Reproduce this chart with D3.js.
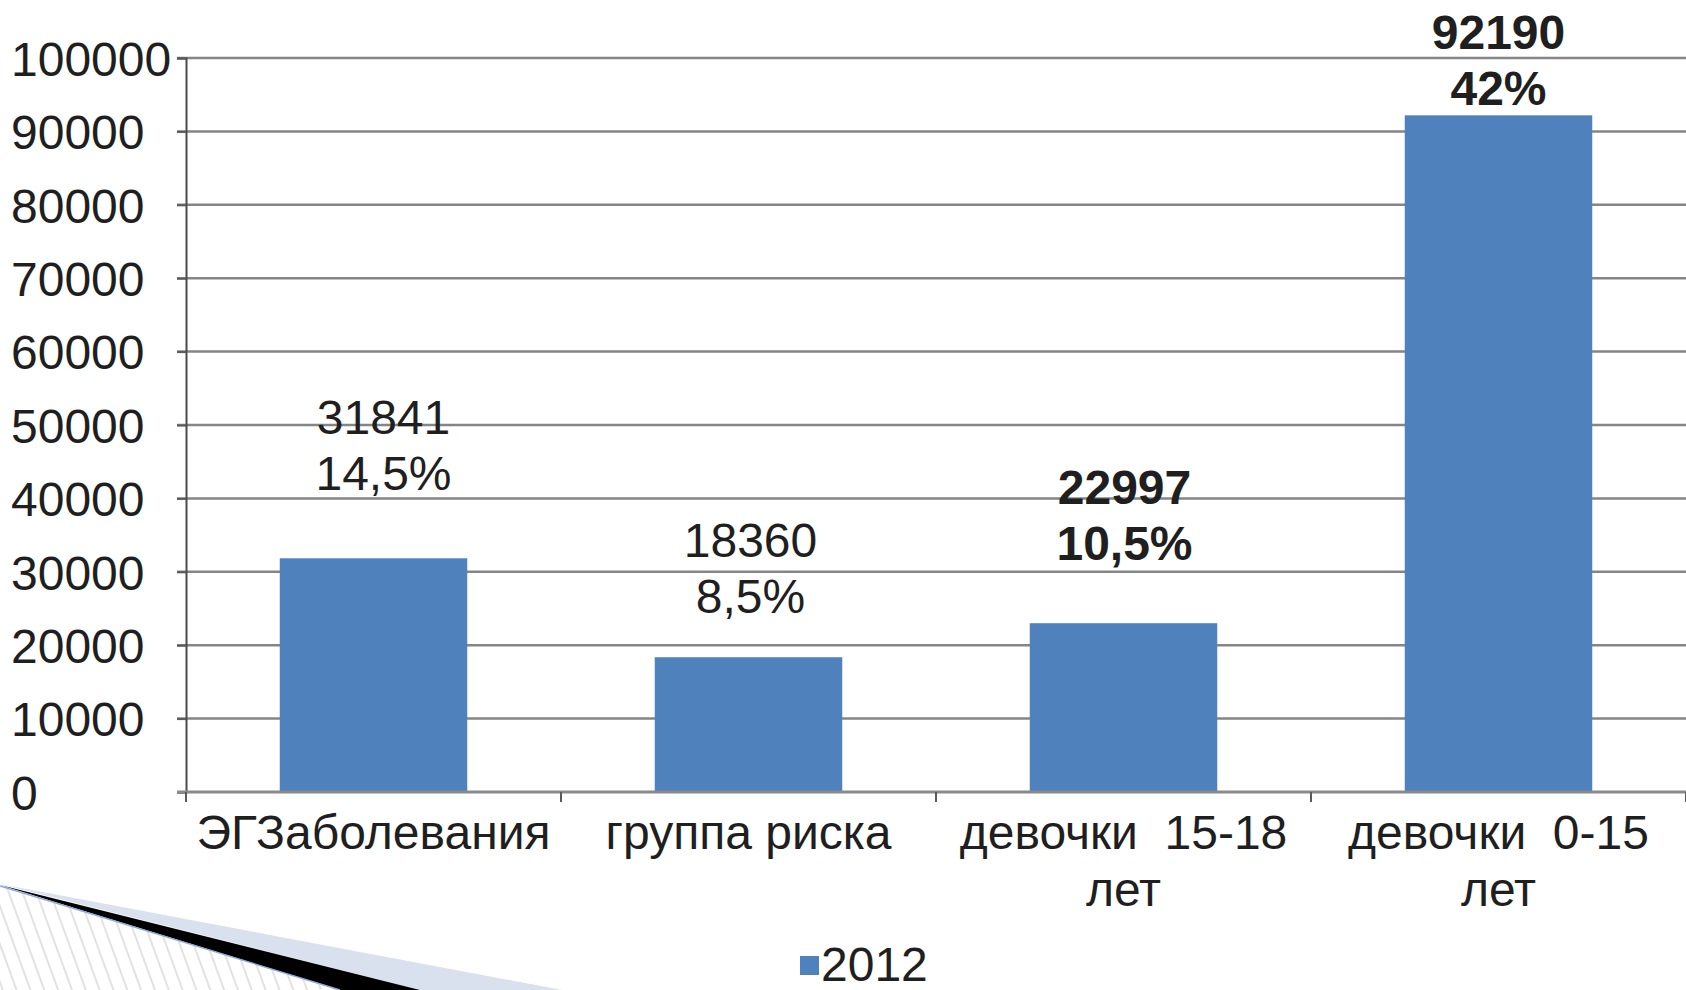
<!DOCTYPE html>
<html lang="ru">
<head>
    <meta charset="UTF-8">
    <title>2012</title>
    <script src="https://d3js.org/d3.v7.min.js"></script>
    <style>
        html, body { margin: 0; padding: 0; background: #fff; }
        svg text { font-family: "Liberation Sans", Arial, sans-serif; font-size: 48px; fill: #1f1f1f; white-space: pre; }
    </style>
</head>
<body>
    <div id="chart"></div>

    <script>
        // data
        const categories = ["ЭГЗаболевания", "группа риска", "девочки  15-18 лет", "девочки  0-15 лет"];
        const categoryLines = [["ЭГЗаболевания"], ["группа риска"], ["девочки  15-18", "лет"], ["девочки  0-15", "лет"]];
        const values = [31841, 18360, 22997, 92190];
        const shares = ["14,5%", "8,5%", "10,5%", "42%"];
        const boldLabel = [false, false, true, true];
        const yTicks = [0, 10000, 20000, 30000, 40000, 50000, 60000, 70000, 80000, 90000, 100000];
        const seriesName = "2012";

        // hand-placed label layout (px above bar top / horizontal nudge)
        const labelGap = [68, 44, 63, 10];
        const labelShift = [10, 2, 1, 0];

        const width = 1686, height = 990;
        const plot = {left: 186, right: 1686, top: 58, bottom: 792};
        const barColor = "#4f81bd";

        const svg = d3.select("#chart")
                      .append("svg")
                      .attr("width", width)
                      .attr("height", height);

        const x = d3.scaleBand().domain(categories).range([plot.left, plot.right])
                    .paddingInner(0.5).paddingOuter(0.25);
        const y = d3.scaleLinear().domain([0, 100000]).range([plot.bottom, plot.top]);

        // gridlines
        svg.append("g")
           .selectAll("line")
           .data(yTicks.slice(1))
           .enter()
           .append("line")
           .attr("x1", plot.left - 9)
           .attr("x2", plot.right)
           .attr("y1", d => y(d))
           .attr("y2", d => y(d))
           .attr("stroke", "#858585")
           .attr("stroke-width", 2.5);

        // y axis
        const yAxis = svg.append("g")
           .attr("transform", `translate(${plot.left}, 0)`)
           .call(d3.axisLeft(y).tickValues(yTicks).tickSize(9).tickPadding(0).tickFormat(d3.format("d")));
        yAxis.select(".domain").attr("stroke", "#4a4a4a").attr("stroke-width", 2);
        yAxis.selectAll(".tick line").attr("stroke", "#5a5a5a").attr("stroke-width", 2);
        yAxis.selectAll("text")
             .attr("x", 11 - plot.left)
             .attr("dy", "0.36em")
             .attr("text-anchor", "start")
             .style("font-size", "48px")
             .style("font-family", "Liberation Sans, Arial, sans-serif")
             .attr("fill", "#1f1f1f");

        // bars
        svg.selectAll(".bar")
           .data(values)
           .enter()
           .append("rect")
           .attr("class", "bar")
           .attr("x", (d, i) => x(categories[i]))
           .attr("y", d => y(d))
           .attr("width", x.bandwidth())
           .attr("height", d => y(0) - y(d))
           .attr("fill", barColor);

        // x axis line and category ticks
        svg.append("line")
           .attr("x1", plot.left - 9).attr("x2", plot.right)
           .attr("y1", y(0)).attr("y2", y(0))
           .attr("stroke", "#8a8a8a").attr("stroke-width", 3);
        svg.append("g")
           .selectAll("line")
           .data(d3.range(categories.length + 1))
           .enter()
           .append("line")
           .attr("x1", i => plot.left + i * x.step())
           .attr("x2", i => plot.left + i * x.step())
           .attr("y1", y(0))
           .attr("y2", y(0) + 10)
           .attr("stroke", "#5a5a5a")
           .attr("stroke-width", 2);

        // category labels
        const cat = svg.append("g")
           .selectAll("text")
           .data(categories)
           .enter()
           .append("text")
           .attr("text-anchor", "middle")
           .attr("x", d => x(d) + x.bandwidth() / 2)
           .attr("y", 849);
        cat.each(function (d, i) {
            categoryLines[i].forEach((line, k) => {
                d3.select(this).append("tspan")
                  .attr("x", x(d) + x.bandwidth() / 2)
                  .attr("dy", k === 0 ? 0 : 57)
                  .text(line);
            });
        });

        // data labels
        svg.append("g")
           .selectAll("text")
           .data(values)
           .enter()
           .append("text")
           .attr("text-anchor", "middle")
           .attr("font-weight", (d, i) => boldLabel[i] ? "bold" : "normal")
           .each(function (d, i) {
               const cx = x(categories[i]) + x.bandwidth() / 2 + labelShift[i];
               const base = y(d) - labelGap[i];
               d3.select(this).append("tspan").attr("x", cx).attr("y", base - 56).text(d);
               d3.select(this).append("tspan").attr("x", cx).attr("y", base).text(shares[i]);
           });

        // legend
        const legend = svg.append("g").attr("transform", "translate(800, 956)");
        legend.append("rect").attr("width", 19).attr("height", 19).attr("fill", barColor);
        legend.append("text").attr("x", 21).attr("y", 25).text(seriesName);

        // slide decoration, bottom left
        const defs = svg.append("defs");
        const pat = defs.append("pattern")
           .attr("id", "hatch")
           .attr("patternUnits", "userSpaceOnUse")
           .attr("width", 13).attr("height", 13)
           .attr("patternTransform", "rotate(-20)");
        pat.append("line")
           .attr("x1", 2).attr("x2", 2).attr("y1", 0).attr("y2", 13)
           .attr("stroke", "#cfcfcf").attr("stroke-width", 1.2);

        const deco = svg.append("g");
        deco.append("path").attr("d", "M0,884 L562,990 L420,990 Z").attr("fill", "#d9e0ee");
        deco.append("path").attr("d", "M0,885 L420,990 L340,990 Z").attr("fill", "#000");
        deco.append("path").attr("d", "M0,886 L340,990 L0,990 Z").attr("fill", "url(#hatch)");
        deco.append("line")
            .attr("x1", 0).attr("y1", 886).attr("x2", 340).attr("y2", 990)
            .attr("stroke", "#8eaadb").attr("stroke-width", 1.5);
    </script>
</body>
</html>
